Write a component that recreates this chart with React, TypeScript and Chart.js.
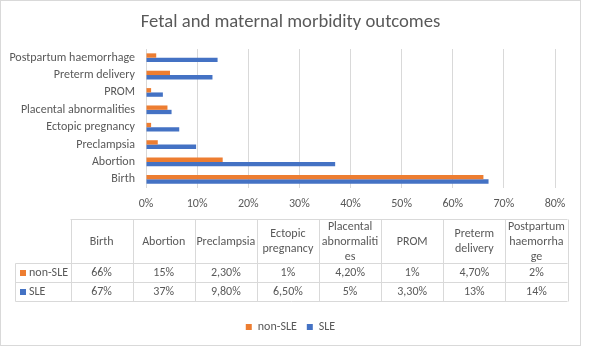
import React, { useEffect, useRef } from 'react';
import { Chart, registerables } from 'chart.js';

Chart.register(...registerables);

const title = 'Fetal and maternal morbidity outcomes';
const categories = [
  'Birth',
  'Abortion',
  'Preclampsia',
  'Ectopic pregnancy',
  'Placental abnormalities',
  'PROM',
  'Preterm delivery',
  'Postpartum haemorrhage',
];
const tableHeaderLines = [
  ['Birth'],
  ['Abortion'],
  ['Preclampsia'],
  ['Ectopic', 'pregnancy'],
  ['Placental', 'abnormaliti', 'es'],
  ['PROM'],
  ['Preterm', 'delivery'],
  ['Postpartum', 'haemorrha', 'ge'],
];
const seriesNames = ['non-SLE', 'SLE'];
const nonSLE = [66, 15, 2.3, 1, 4.2, 1, 4.7, 2];
const SLE = [67, 37, 9.8, 6.5, 5, 3.3, 13, 14];
const xMin = 0;
const xMax = 80;
const xStep = 10;

const ORANGE = '#ED7D31';
const BLUE = '#4472C4';
const TEXT = '#595959';
const GRID = '#D9D9D9';
const FONT = 'Carlito, Calibri, Lato, "Open Sans", sans-serif';
const FS = 12;

const fmt = (v: number) =>
  Number.isInteger(v) ? `${v}%` : `${v.toFixed(2).replace('.', ',')}%`;

const frameAndTable = {
  id: 'frameAndTable',
  beforeDraw(chart: any) {
    const ctx = chart.ctx;
    ctx.save();
    ctx.fillStyle = '#ffffff';
    ctx.fillRect(0, 0, chart.width, chart.height);
    ctx.restore();
  },
  afterDraw(chart: any) {
    const ctx = chart.ctx;
    ctx.save();
    ctx.strokeStyle = GRID;
    ctx.lineWidth = 1;
    ctx.strokeRect(0.5, 0.5, 580, 345);

    const base = chart.chartArea.bottom;
    const top = Math.round(base + 31) + 0.5;
    const headBottom = top + 44;
    const r1 = headBottom + 19;
    const r2 = r1 + 19;
    const x0 = 15.5;
    const xh = 70.5;
    const xEnd = 567.5;
    const colW = (xEnd - xh) / categories.length;

    ctx.beginPath();
    ctx.moveTo(xh, top);
    ctx.lineTo(xEnd, top);
    [headBottom, r1, r2].forEach((y) => {
      ctx.moveTo(x0, y);
      ctx.lineTo(xEnd, y);
    });
    ctx.moveTo(x0, headBottom);
    ctx.lineTo(x0, r2);
    for (let i = 0; i <= categories.length; i++) {
      const x = Math.round(xh + i * colW) + 0.5;
      ctx.moveTo(x, top);
      ctx.lineTo(x, r2);
    }
    ctx.stroke();

    ctx.fillStyle = TEXT;
    ctx.font = `${FS}px ${FONT}`;
    ctx.textAlign = 'center';
    ctx.textBaseline = 'middle';
    const headMid = (top + headBottom) / 2;
    tableHeaderLines.forEach((lines, i) => {
      const cx = xh + (i + 0.5) * colW;
      const lh = 15;
      const startY = headMid - ((lines.length - 1) * lh) / 2;
      lines.forEach((ln, j) => ctx.fillText(ln, cx, startY + j * lh));
    });

    const rows = [
      { name: seriesNames[0], color: ORANGE, data: nonSLE, mid: (headBottom + r1) / 2 },
      { name: seriesNames[1], color: BLUE, data: SLE, mid: (r1 + r2) / 2 },
    ];
    rows.forEach((row) => {
      ctx.fillStyle = row.color;
      ctx.fillRect(20, Math.round(row.mid - 3), 6, 6);
      ctx.fillStyle = TEXT;
      ctx.textAlign = 'left';
      ctx.fillText(row.name, 29, row.mid);
      ctx.textAlign = 'center';
      row.data.forEach((v, i) => {
        ctx.fillText(fmt(v), xh + (i + 0.5) * colW, row.mid);
      });
    });
    ctx.restore();
  },
};

export default function App() {
  const ref = useRef<HTMLCanvasElement | null>(null);
  useEffect(() => {
    document.body.style.margin = '0';
    const chart = new Chart(ref.current as HTMLCanvasElement, {
      type: 'bar',
      data: {
        labels: categories,
        datasets: [
          {
            label: seriesNames[0],
            data: nonSLE,
            backgroundColor: ORANGE,
            categoryPercentage: 0.5,
            barPercentage: 1,
          },
          {
            label: seriesNames[1],
            data: SLE,
            backgroundColor: BLUE,
            categoryPercentage: 0.5,
            barPercentage: 1,
          },
        ],
      },
      options: {
        indexAxis: 'y',
        responsive: false,
        animation: false,
        layout: { padding: { left: 4, right: 14, top: 0, bottom: 12 } },
        plugins: {
          title: {
            display: true,
            text: title,
            color: TEXT,
            font: { family: FONT, size: 18.67, weight: 'normal' },
            padding: { top: 11, bottom: 15.6 },
          },
          legend: {
            position: 'bottom',
            labels: {
              boxWidth: 6,
              boxHeight: 6,
              color: TEXT,
              font: { family: FONT, size: FS },
              padding: 10,
            },
          },
          tooltip: { enabled: false },
        },
        scales: {
          x: {
            min: xMin,
            max: xMax,
            ticks: {
              stepSize: xStep,
              callback: (v: any) => `${v}%`,
              color: TEXT,
              font: { family: FONT, size: FS },
              padding: 9,
              maxRotation: 0,
            },
            grid: { color: GRID, drawTicks: false },
            border: { display: false },
            afterFit: (s: any) => {
              s.height = 123;
            },
          },
          y: {
            reverse: true,
            grid: { display: false, drawTicks: false },
            border: { display: false },
            ticks: {
              color: TEXT,
              font: { family: FONT, size: FS },
              padding: 11,
              autoSkip: false,
            },
            afterFit: (s: any) => {
              s.width = 142;
            },
          },
          yRight: {
            type: 'category',
            position: 'right',
            display: true,
            grid: { display: false, drawTicks: false },
            border: { display: false },
            ticks: { display: false },
            afterFit: (s: any) => {
              s.width = 22;
            },
          },
        },
      },
      plugins: [frameAndTable],
    } as any);
    return () => chart.destroy();
  }, []);
  return <canvas ref={ref} width={591} height={355} style={{ display: 'block' }} />;
}
